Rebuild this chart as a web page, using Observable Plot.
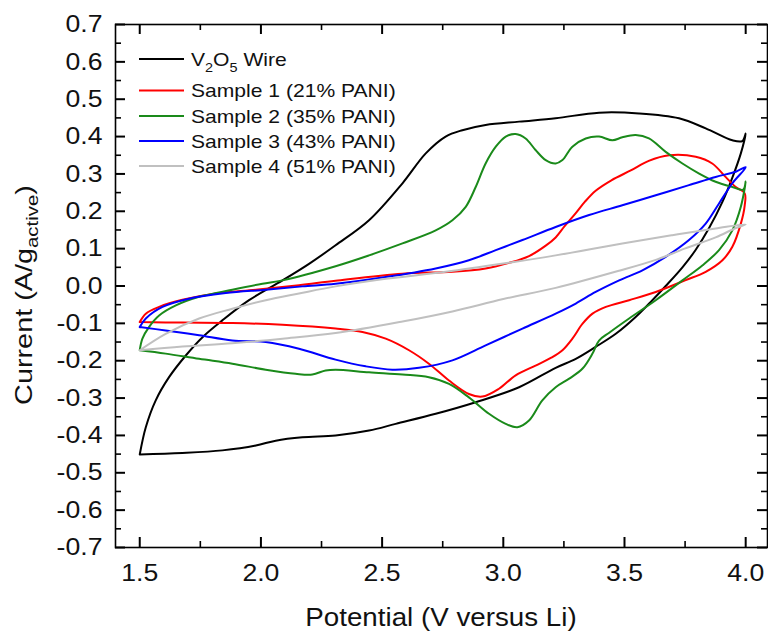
<!DOCTYPE html>
<html>
<head>
<meta charset="utf-8">
<script src="https://cdn.jsdelivr.net/npm/d3@7"></script>
<script src="https://cdn.jsdelivr.net/npm/@observablehq/plot@0.6"></script>
<style>
  html, body { margin: 0; padding: 0; background: #fff; }
  svg { display: block; }
</style>
</head>
<body>
<div id="chart"></div>
<script>
// ---------- data ----------
const seriesNames = ["V2O5 Wire", "Sample 1 (21% PANI)", "Sample 2 (35% PANI)", "Sample 3 (43% PANI)", "Sample 4 (51% PANI)"];
const seriesColors = ["#000000", "#ff0000", "#1a8a1a", "#0000ff", "#c0c0c0"];

// V2O5 wire: anodic sweep 1.5 -> 4.0 then cathodic sweep back to 1.5
const wirePotential = [1.5, 1.525, 1.566, 1.621, 1.69, 1.759, 1.841, 1.951, 2.089, 2.2, 2.308, 2.446, 2.584, 2.68, 2.762, 2.831, 2.927, 3.065, 3.216, 3.395, 3.56, 3.725, 3.835, 3.945, 3.986, 4.0,
  3.98, 3.945, 3.904, 3.849, 3.794, 3.739, 3.67, 3.615, 3.546, 3.464, 3.381, 3.299, 3.216, 3.065, 2.886, 2.721, 2.556, 2.446, 2.308, 2.171, 2.061, 1.979, 1.841, 1.676, 1.5];
const wireCurrent = [-0.451, -0.378, -0.306, -0.244, -0.186, -0.137, -0.092, -0.038, 0.015, 0.06, 0.109, 0.176, 0.275, 0.355, 0.40, 0.417, 0.431, 0.44, 0.449, 0.464, 0.462, 0.449, 0.422, 0.39, 0.388, 0.408,
  0.355, 0.29, 0.225, 0.155, 0.097, 0.05, 0.0, -0.038, -0.083, -0.128, -0.163, -0.195, -0.219, -0.271, -0.311, -0.342, -0.369, -0.387, -0.40, -0.405, -0.414, -0.427, -0.44, -0.447, -0.451];

// Sample 1 (21% PANI)
const s1Potential = [1.5, 1.525, 1.58, 1.676, 1.814, 1.979, 2.157, 2.308, 2.584, 2.79, 2.927, 3.024, 3.106, 3.175, 3.216, 3.253, 3.299, 3.336, 3.381, 3.446, 3.528, 3.6, 3.684, 3.794, 3.862, 3.917, 3.959, 3.996,
  3.996, 3.98, 3.945, 3.904, 3.835, 3.75, 3.629, 3.519, 3.423, 3.368, 3.327, 3.285, 3.244, 3.198, 3.133, 3.051, 2.982, 2.913, 2.858, 2.776, 2.693, 2.611, 2.515, 2.419, 2.308, 2.089, 1.882, 1.676, 1.5];
const s1Current = [-0.0965, -0.074, -0.056, -0.037, -0.02, -0.01, 0.002, 0.014, 0.033, 0.038, 0.047, 0.062, 0.08, 0.108, 0.13, 0.16, 0.195, 0.225, 0.255, 0.283, 0.31, 0.335, 0.35, 0.346, 0.328, 0.292, 0.265, 0.248,
  0.216, 0.167, 0.105, 0.069, 0.038, 0.015, -0.016, -0.038, -0.056, -0.074, -0.101, -0.141, -0.172, -0.192, -0.213, -0.239, -0.275, -0.296, -0.289, -0.253, -0.208, -0.172, -0.141, -0.123, -0.114, -0.104, -0.099, -0.098, -0.0965];

// Sample 2 (35% PANI)
const s2Potential = [1.5, 1.511, 1.538, 1.58, 1.649, 1.745, 1.882, 2.006, 2.089, 2.308, 2.446, 2.584, 2.721, 2.79, 2.845, 2.886, 2.927, 2.969, 3.01, 3.051, 3.092, 3.133, 3.175, 3.216, 3.244, 3.285, 3.34, 3.395, 3.45, 3.491, 3.546, 3.601, 3.67, 3.739, 3.808, 3.876, 3.945, 3.99, 4.0,
  3.98, 3.945, 3.89, 3.821, 3.739, 3.629, 3.519, 3.437, 3.395, 3.368, 3.327, 3.272, 3.216, 3.161, 3.106, 3.058, 3.01, 2.941, 2.858, 2.776, 2.693, 2.584, 2.446, 2.308, 2.267, 2.212, 2.143, 2.02, 1.882, 1.745, 1.607, 1.5];
const s2Current = [-0.172, -0.141, -0.11, -0.079, -0.052, -0.029, -0.01, 0.006, 0.015, 0.053, 0.082, 0.114, 0.149, 0.176, 0.212, 0.265, 0.328, 0.373, 0.40, 0.407, 0.395, 0.364, 0.337, 0.328, 0.337, 0.373, 0.395, 0.40, 0.39, 0.398, 0.404, 0.395, 0.359, 0.328, 0.301, 0.279, 0.265, 0.258, 0.28,
  0.212, 0.149, 0.096, 0.055, 0.015, -0.038, -0.087, -0.125, -0.146, -0.181, -0.221, -0.248, -0.271, -0.306, -0.36, -0.378, -0.369, -0.342, -0.298, -0.262, -0.244, -0.237, -0.231, -0.224, -0.226, -0.237, -0.235, -0.224, -0.208, -0.195, -0.181, -0.172];

// Sample 3 (43% PANI)
const s3Potential = [1.5, 1.525, 1.594, 1.703, 1.855, 2.02, 2.171, 2.308, 2.515, 2.721, 2.858, 2.969, 3.079, 3.216, 3.354, 3.491, 3.629, 3.766, 3.876, 3.959, 4.0,
  3.945, 3.89, 3.835, 3.766, 3.67, 3.574, 3.478, 3.381, 3.299, 3.216, 3.079, 2.927, 2.79, 2.652, 2.542, 2.432, 2.308, 2.157, 2.02, 1.882, 1.745, 1.607, 1.5];
const s3Current = [-0.11, -0.087, -0.056, -0.034, -0.019, -0.01, -0.001, 0.006, 0.024, 0.047, 0.069, 0.096, 0.123, 0.158, 0.19, 0.216, 0.243, 0.27, 0.292, 0.306, 0.318,
  0.275, 0.221, 0.167, 0.123, 0.078, 0.042, 0.015, -0.016, -0.047, -0.074, -0.114, -0.159, -0.199, -0.219, -0.224, -0.215, -0.197, -0.168, -0.15, -0.146, -0.132, -0.119, -0.11];

// Sample 4 (51% PANI)
const s4Potential = [1.5, 1.607, 1.745, 1.882, 2.02, 2.157, 2.308, 2.5, 2.762, 3.0, 3.216, 3.491, 3.697, 3.876, 4.0,
  3.955, 3.876, 3.748, 3.629, 3.473, 3.216, 3.0, 2.79, 2.584, 2.308, 2.089, 1.882, 1.676, 1.5];
const s4Current = [-0.172, -0.128, -0.087, -0.061, -0.038, -0.02, -0.001, 0.018, 0.038, 0.06, 0.082, 0.114, 0.136, 0.154, 0.165,
  0.154, 0.13, 0.1, 0.07, 0.04, -0.005, -0.035, -0.068, -0.095, -0.126, -0.141, -0.153, -0.162, -0.172];

// ticks
const xTicks = [1.5, 2.0, 2.5, 3.0, 3.5, 4.0];
const xMinorTicks = [1.75, 2.25, 2.75, 3.25, 3.75];
const yTicks = [-0.7, -0.6, -0.5, -0.4, -0.3, -0.2, -0.1, 0.0, 0.1, 0.2, 0.3, 0.4, 0.5, 0.6, 0.7];
const yMinorTicks = [-0.65, -0.55, -0.45, -0.35, -0.25, -0.15, -0.05, 0.05, 0.15, 0.25, 0.35, 0.45, 0.55, 0.65];

// ---------- build table ----------
const potentials = [wirePotential, s1Potential, s2Potential, s3Potential, s4Potential];
const currents = [wireCurrent, s1Current, s2Current, s3Current, s4Current];
const rows = [];
seriesNames.forEach((name, k) => {
  potentials[k].forEach((v, j) => rows.push({series: name, v, i: currents[k][j]}));
});

const FONT = "'Liberation Sans', Arial, Helvetica, sans-serif";
const W = 768, H = 632;
const mL = 115, mR = 1, mT = 24, mB = 85;
const plotW = W - mL - mR, plotH = H - mT - mB;
const MAJ = 10, MIN = 6;
const TICK = "black";
const fmt = d => d.toFixed(1);

const plot = Plot.plot({
  width: W,
  height: H,
  marginLeft: mL,
  marginRight: mR,
  marginTop: mT,
  marginBottom: mB,
  style: {fontFamily: FONT, fontSize: "24px", color: "#111", background: "#fff"},
  x: {domain: [1.4, 4.09]},
  y: {domain: [-0.7, 0.7]},
  color: {domain: seriesNames, range: seriesColors},
  marks: [
    Plot.line(rows, {x: "v", y: "i", z: "series", stroke: "series", strokeWidth: 2, curve: "catmull-rom"}),
    Plot.frame({stroke: "black", strokeWidth: 1.6}),
    // inward major / minor ticks on all four sides
    Plot.tickX(xTicks, {x: d => d, insetTop: plotH - MAJ, stroke: TICK, strokeWidth: 2}),
    Plot.tickX(xTicks, {x: d => d, insetBottom: plotH - MAJ, stroke: TICK, strokeWidth: 2}),
    Plot.tickX(xMinorTicks, {x: d => d, insetTop: plotH - MIN, stroke: TICK, strokeWidth: 1.6}),
    Plot.tickX(xMinorTicks, {x: d => d, insetBottom: plotH - MIN, stroke: TICK, strokeWidth: 1.6}),
    Plot.tickY(yTicks, {y: d => d, insetRight: plotW - MAJ, stroke: TICK, strokeWidth: 2}),
    Plot.tickY(yTicks, {y: d => d, insetLeft: plotW - MAJ, stroke: TICK, strokeWidth: 2}),
    Plot.tickY(yMinorTicks, {y: d => d, insetRight: plotW - MIN, stroke: TICK, strokeWidth: 1.6}),
    Plot.tickY(yMinorTicks, {y: d => d, insetLeft: plotW - MIN, stroke: TICK, strokeWidth: 1.6}),
    // tick labels
    Plot.axisX({anchor: "bottom", ticks: xTicks, tickSize: 0, tickPadding: 16, tickFormat: fmt, label: null, fontSize: 24}),
    Plot.axisY({anchor: "left", ticks: yTicks, tickSize: 0, tickPadding: 13, tickFormat: fmt, label: null, fontSize: 24})
  ]
});

document.getElementById("chart").appendChild(plot);

const svg = d3.select(plot);

// axis titles
svg.append("text")
  .attr("x", mL + plotW / 2)
  .attr("y", 626)
  .attr("text-anchor", "middle")
  .attr("font-family", FONT)
  .attr("font-size", 25)
  .attr("fill", "#111")
  .text("Potential (V versus Li)");

const yt = svg.append("text")
  .attr("transform", "translate(32,295) rotate(-90)")
  .attr("text-anchor", "middle")
  .attr("font-family", FONT)
  .attr("font-size", 24)
  .attr("fill", "#111")
  .attr("data-stretch", "1.2");
yt.append("tspan").text("Current (A/g");
yt.append("tspan").attr("font-size", 17).attr("dy", 6).text("active");
yt.append("tspan").attr("dy", -6).text(")");

// legend
const legendY = [59, 90.5, 116, 141, 166];
const lg = svg.append("g")
  .attr("font-family", FONT).attr("font-size", 19).attr("fill", "#111")
  .attr("text-anchor", "start");
seriesNames.forEach((name, k) => {
  lg.append("line")
    .attr("x1", 139).attr("x2", 184)
    .attr("y1", legendY[k]).attr("y2", legendY[k])
    .attr("stroke", seriesColors[k]).attr("stroke-width", 2);
  const t = lg.append("text").attr("x", 191).attr("y", legendY[k] + 6.6).attr("text-anchor", "start");
  if (k === 0) {
    t.append("tspan").text("V");
    t.append("tspan").attr("font-size", 13).attr("dy", 6).text("2");
    t.append("tspan").attr("dy", -6).text("O");
    t.append("tspan").attr("font-size", 13).attr("dy", 6).text("5");
    t.append("tspan").attr("dy", -6).text(" Wire");
  } else {
    t.text(name);
  }
});

// the reference font is drawn a little wider than Arial: stretch every label
plot.querySelectorAll("text").forEach(t => {
  if (!t.textContent.trim()) return;
  const len = t.getComputedTextLength();
  const k = +(t.getAttribute("data-stretch") || 1.11);
  if (len > 0) {
    t.setAttribute("textLength", (len * k).toFixed(1));
    t.setAttribute("lengthAdjust", "spacingAndGlyphs");
  }
});
</script>
</body>
</html>
